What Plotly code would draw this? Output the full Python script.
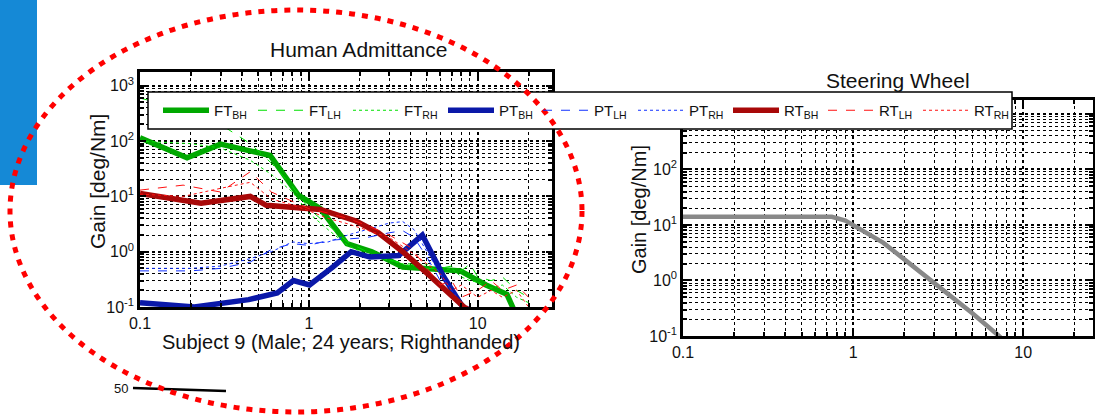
import plotly.graph_objects as go

# ---------------- data ----------------
F_FT_BH = [0.1, 0.19, 0.3, 0.59, 0.87, 1.17, 1.68, 2.36, 3.6, 7.9, 11.2, 14.9, 16.4, 20]
G_FT_BH = [115, 50, 88, 55, 10.4, 6.0, 1.4, 1.0, 0.53, 0.45, 0.25, 0.17, 0.088, 0.06]

F_THIN = [0.1, 0.2, 0.3, 0.45, 0.6, 0.8, 1.0, 1.3, 1.7, 2.2, 3, 4, 5, 6, 7, 8, 9, 10, 12, 14, 17, 20]
G_FT_LH = [600, 350, 200, 90, 40, 15, 6, 3, 1.5, 1.0, 0.7, 0.6, 0.5, 0.5, 0.55, 0.45, 0.6, 0.35, 0.3, 0.35, 0.2, 0.15]
G_FT_RH = [100, 90, 75, 45, 25, 12, 5, 2.5, 1.3, 0.9, 0.7, 0.55, 0.6, 0.45, 0.5, 0.35, 0.3, 0.28, 0.22, 0.25, 0.15, 0.12]

F_PT_BH = [0.1, 0.21, 0.44, 0.65, 0.81, 1.01, 1.39, 1.78, 2.3, 3.4, 4.7, 6.3, 8.2, 10]
G_PT_BH = [0.12, 0.10, 0.136, 0.18, 0.30, 0.25, 0.53, 1.0, 0.8, 0.85, 2.0, 0.35, 0.097, 0.06]

F_PT_THIN = [0.1, 0.2, 0.3, 0.45, 0.6, 0.8, 1.0, 1.3, 1.7, 2.2, 3, 3.6, 4.2, 5, 6, 7, 8, 10]
G_PT_LH = [0.45, 0.45, 0.5, 0.65, 1.1, 1.4, 1.3, 1.6, 1.7, 1.8, 2.2, 2.4, 1.8, 0.8, 0.3, 0.15, 0.1, 0.08]
G_PT_RH = [0.5, 0.5, 0.55, 0.75, 1.0, 1.5, 1.4, 1.5, 2.0, 2.5, 3.3, 3.5, 2.5, 1.0, 0.4, 0.2, 0.12, 0.08]

F_RT_BH = [0.1, 0.23, 0.45, 0.56, 1.17, 1.9, 2.58, 3.6, 5.1, 8.3, 10]
G_RT_BH = [11.3, 7.5, 10, 6.9, 5.8, 3.6, 2.2, 1.0, 0.39, 0.1, 0.07]

F_RT_THIN = [0.1, 0.18, 0.3, 0.45, 0.6, 0.8, 1.0, 1.3, 1.7, 2.2, 3, 4, 5, 6, 7, 8, 10, 12, 14, 17, 20]
G_RT_LH = [13, 16, 12, 28, 12, 8, 6, 5, 4, 3, 2, 1.2, 0.5, 0.25, 0.3, 0.15, 0.2, 0.3, 0.2, 0.25, 0.15]
G_RT_RH = [11, 10, 14, 18, 9, 7, 5.5, 4, 3.2, 2.5, 1.8, 1.0, 0.6, 0.4, 0.2, 0.25, 0.15, 0.2, 0.15, 0.2, 0.1]

F_SW = [0.1, 0.3, 0.6, 0.75, 0.9, 1.1, 1.5, 2, 3, 5, 7.2, 10]
G_SW = [14, 14, 14, 14, 12, 8.5, 4.8, 2.4, 0.9, 0.26, 0.1, 0.04]

Y_TICKS = [0.1, 1, 10, 100, 1000]
Y_TICKTEXT = ["10<sup>-1</sup>", "10<sup>0</sup>", "10<sup>1</sup>", "10<sup>2</sup>", "10<sup>3</sup>"]
X_TICKS = [0.1, 1, 10]
X_TICKTEXT = ["0.1", "1", "10"]
MINOR = [m * 10 ** e for e in range(-2, 4) for m in range(2, 10)]

TITLE_L = "Human Admittance"
TITLE_R = "Steering Wheel"
YLABEL = "Gain [deg/Nm]"
XLABEL = "Subject 9 (Male; 24 years; Righthanded)"

W, H = 1095, 418
FONT = "Liberation Sans, Arial, sans-serif"

GREEN_T, GREEN = "#00a800", "#00e000"
BLUE_T, BLUE = "#0a18a8", "#1030ff"
RED_T, RED = "#a80808", "#ff1010"

fig = go.Figure()

def add(f, g, name, color, width, dash, ax="x", ay="y", legend=True):
    fig.add_trace(go.Scatter(x=f, y=g, name=name, mode="lines",
                             line=dict(color=color, width=width, dash=dash),
                             xaxis=ax, yaxis=ay, showlegend=legend))

add(F_FT_BH, G_FT_BH, "FT<sub>BH</sub>", GREEN_T, 5.5, "solid")
add(F_THIN, G_FT_LH, "FT<sub>LH</sub>", GREEN, 1, "dash")
add(F_THIN, G_FT_RH, "FT<sub>RH</sub>", GREEN, 1, "dot")
add(F_PT_BH, G_PT_BH, "PT<sub>BH</sub>", BLUE_T, 5.5, "solid")
add(F_PT_THIN, G_PT_LH, "PT<sub>LH</sub>", BLUE, 1, "dash")
add(F_PT_THIN, G_PT_RH, "PT<sub>RH</sub>", BLUE, 1, "dot")
add(F_RT_BH, G_RT_BH, "RT<sub>BH</sub>", RED_T, 5.5, "solid")
add(F_RT_THIN, G_RT_LH, "RT<sub>LH</sub>", RED, 1, "dash")
add(F_RT_THIN, G_RT_RH, "RT<sub>RH</sub>", RED, 1, "dot")
add(F_SW, G_SW, "SW", "#888888", 4.5, "solid", "x2", "y2", legend=False)

def px_x(p):
    return p / W

def px_y(p):
    return 1 - p / H

GRID = dict(showgrid=True, gridcolor="black", griddash="dot", gridwidth=1.5)
MINOR_GRID = dict(tickvals=MINOR, showgrid=True, gridcolor="black", griddash="dot",
                  gridwidth=1.3, ticks="inside", ticklen=4, tickcolor="black")

def xaxis(dom, rng, anchor):
    return dict(type="log", domain=dom, range=rng, tickvals=X_TICKS, ticktext=X_TICKTEXT,
                anchor=anchor,
                showline=True, linecolor="black", linewidth=2.5, mirror="ticks",
                ticks="inside", ticklen=6, tickcolor="black", tickwidth=1.5,
                minor=MINOR_GRID, tickfont=dict(size=16, color="#111"),
                zeroline=False, automargin=False, **GRID)

def yaxis(dom, rng, anchor):
    return dict(type="log", domain=dom, range=rng, tickvals=Y_TICKS, ticktext=Y_TICKTEXT,
                anchor=anchor,
                showline=True, linecolor="black", linewidth=2.5, mirror="ticks",
                ticks="inside", ticklen=6, tickcolor="black", tickwidth=1.5,
                minor=MINOR_GRID, tickfont=dict(size=16, color="#111"),
                zeroline=False, automargin=False, **GRID)

LEG_TOP, LEG_BOT = 92, 129

fig.update_layout(
    width=W, height=H, margin=dict(l=0, r=0, t=0, b=0),
    paper_bgcolor="white", plot_bgcolor="white",
    font=dict(family=FONT, color="#111"),
    xaxis=xaxis([px_x(140), px_x(552)], [-1, 1.44], "y"),
    yaxis=yaxis([px_y(307), px_y(72)], [-1, 3.25], "x"),
    xaxis2=xaxis([px_x(683), px_x(1093)], [-1, 1.41], "y2"),
    yaxis2=yaxis([px_y(336), px_y(100)], [-1, 3.25], "x2"),
    legend=dict(orientation="h", x=px_x(158), y=px_y((LEG_TOP + LEG_BOT) / 2),
                xanchor="left", yanchor="middle",
                bgcolor="rgba(0,0,0,0)", borderwidth=0,
                font=dict(size=15, family=FONT, color="#111"),
                entrywidth=34, entrywidthmode="pixels", itemwidth=46,
                tracegroupgap=0),
    showlegend=True,
)

ann = [
    dict(text=TITLE_L, x=px_x(358), y=px_y(50), size=21, angle=0),
    dict(text=TITLE_R, x=px_x(898), y=px_y(80), size=21, angle=0),
    dict(text=YLABEL, x=px_x(98), y=px_y(182), size=21, angle=-90),
    dict(text=YLABEL, x=px_x(639), y=px_y(210), size=20, angle=-90),
    dict(text=XLABEL, x=px_x(341), y=px_y(342), size=20, angle=0),
    dict(text="50", x=px_x(121), y=px_y(388), size=13, angle=0),
]
for a in ann:
    fig.add_annotation(text=a["text"], x=a["x"], y=a["y"], xref="paper", yref="paper",
                       showarrow=False, textangle=a["angle"],
                       font=dict(size=a["size"], family=FONT, color="#111"),
                       xanchor="center", yanchor="middle")

# legend box (covers the plots like the original legend)
fig.add_shape(type="rect", xref="paper", yref="paper",
              x0=px_x(148), x1=px_x(1012), y0=px_y(LEG_BOT), y1=px_y(LEG_TOP),
              fillcolor="white", line=dict(color="black", width=1.5), layer="above")
# slide decorations
fig.add_shape(type="rect", xref="paper", yref="paper",
              x0=0, x1=px_x(37), y0=px_y(185), y1=1,
              fillcolor="#1589d6", line=dict(width=0), layer="above")
fig.add_shape(type="line", xref="paper", yref="paper",
              x0=px_x(133), x1=px_x(226), y0=px_y(388), y1=px_y(391),
              line=dict(color="black", width=2.5), layer="above")
fig.add_shape(type="circle", xref="paper", yref="paper",
              x0=px_x(10), x1=px_x(582), y0=px_y(412), y1=px_y(10),
              line=dict(color="#ff0000", width=5, dash="6px,7px"), layer="above")

fig.write_html("out.html")
